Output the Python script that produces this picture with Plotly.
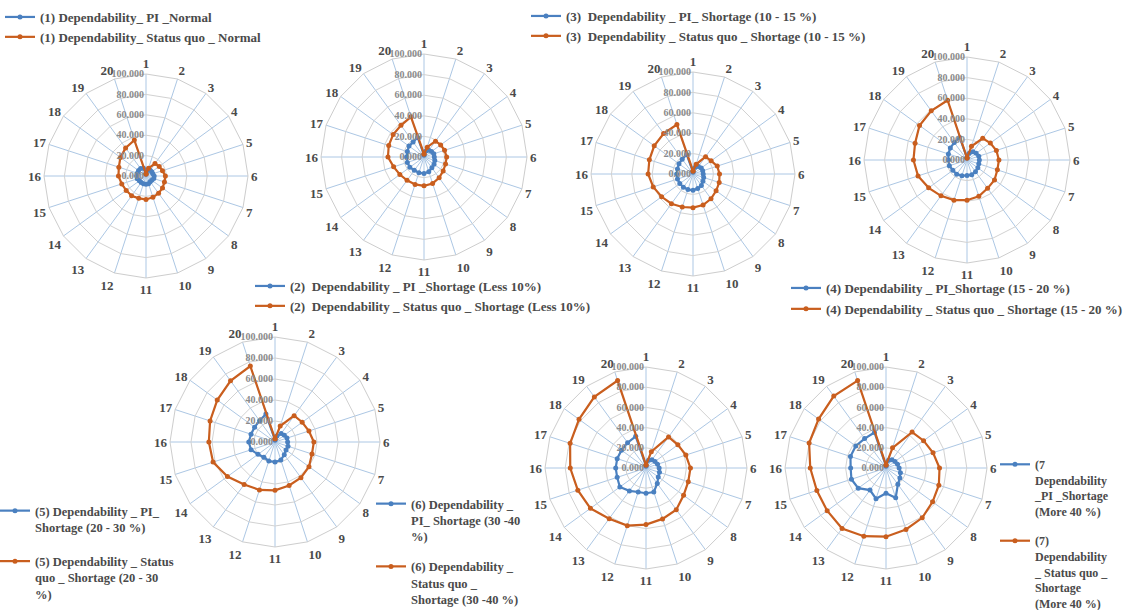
import plotly.graph_objects as go

W, H = 1131, 610

categories = ["1", "2", "3", "4", "5", "6", "7", "8", "9", "10",
              "11", "12", "13", "14", "15", "16", "17", "18", "19", "20"]
radial_ticks = [0, 20, 40, 60, 80, 100]
radial_labels = ["0.000", "20.000", "40.000", "60.000", "80.000", "100.000"]

# Dependability values per scenario (PI vs status quo)
pi_normal = [2, 6, 7, 7, 7, 8, 8, 7, 7, 8, 8, 8, 8, 8, 9, 9, 9, 9, 9, 8]
sq_normal = [2, 8, 15, 16, 17, 19, 19, 20, 21, 22, 23, 23, 24, 24, 25, 27, 28, 31, 34, 37]

pi_less10 = [2, 6, 8, 9, 10, 10, 11, 12, 13, 15, 16, 16, 16, 17, 17, 17, 17, 18, 18, 20]
sq_less10 = [3, 10, 19, 20, 21, 22, 22, 23, 25, 27, 28, 28, 28, 29, 31, 35, 36, 37, 38, 41]

pi_10_15 = [2, 7, 9, 10, 10, 10, 11, 12, 14, 15, 16, 16, 16, 16, 16, 16, 16, 17, 18, 20]
sq_10_15 = [3, 10, 21, 22, 25, 26, 27, 28, 30, 32, 33, 34, 36, 38, 41, 44, 45, 47, 49, 51]

pi_15_20 = [2, 7, 10, 11, 12, 12, 12, 13, 14, 15, 15, 16, 17, 17, 18, 18, 19, 20, 21, 23]
sq_15_20 = [2, 14, 26, 28, 30, 31, 31, 33, 34, 37, 39, 41, 43, 46, 50, 52, 53, 57, 59, 61]

pi_20_30 = [2, 6, 10, 11, 12, 12, 13, 13, 15, 18, 19, 19, 18, 20, 24, 25, 24, 24, 25, 28]
sq_20_30 = [3, 16, 31, 32, 34, 37, 37, 40, 42, 43.5, 46, 48, 50, 56, 62, 63, 65, 68, 72, 76]

pi_30_40 = [2, 8, 10, 11, 12, 13, 14, 15, 19, 25, 25, 25, 28, 32, 30, 30, 30, 30, 31, 33]
sq_30_40 = [3, 17, 38, 39, 41.5, 44, 44, 46, 51, 53, 56, 60, 62, 68, 71, 75, 79, 82, 87, 91]

pi_more40 = [2, 8, 10, 11, 12, 13, 15, 17, 20, 31, 25, 32, 27, 34, 36, 35, 37, 37, 36, 37]
sq_more40 = [3, 21, 44, 46, 49, 53, 55, 57, 61, 64, 68, 71, 74, 72, 72, 75, 80, 82.5, 88, 91]

names_pi = [
    "(1) Dependability_ PI _Normal",
    "(2)  Dependability _ PI _Shortage (Less 10%)",
    "(3)  Dependability _ PI_ Shortage (10 - 15 %)",
    "(4) Dependability _ PI_Shortage (15 - 20 %)",
    "(5) Dependability _ PI_<br>Shortage (20 - 30 %)",
    "(6) Dependability _<br>PI_ Shortage (30 -40<br>%)",
    "(7<br>Dependability<br>_PI _Shortage<br>(More 40 %)",
]
names_sq = [
    "(1) Dependability_ Status quo _ Normal",
    "(2)  Dependability _ Status quo _ Shortage (Less 10%)",
    "(3)  Dependability _ Status quo _ Shortage (10 - 15 %)",
    "(4) Dependability _ Status quo _ Shortage (15 - 20 %)",
    "(5) Dependability _ Status<br>quo _ Shortage (20 - 30<br>%)",
    "(6) Dependability _<br>Status quo _<br>Shortage (30 -40 %)",
    "(7)<br>Dependability<br>_ Status quo _<br>Shortage<br>(More 40 %)",
]
pi_series = [pi_normal, pi_less10, pi_10_15, pi_15_20, pi_20_30, pi_30_40, pi_more40]
sq_series = [sq_normal, sq_less10, sq_10_15, sq_15_20, sq_20_30, sq_30_40, sq_more40]

# layout of each radar panel: centre (px), radius (px)
panels = [
    ((146, 176), 102),
    ((424, 157), 103),
    ((693, 174), 102),
    ((967, 160), 103),
    ((275, 442), 105),
    ((646, 468), 101),
    ((886, 468), 101),
]
# legend placement: left x (px), top y (px), font size, gap between entries
legend_pos = [
    (0, 2, 13, 0),
    (250, 271, 13, 0),
    (526, 1, 13, 0),
    (786, 273, 13, 1),
    (-5, 496, 12.5, 15),
    (371, 489, 12.5, 11),
    (995, 450, 12, 11),
]

BLUE = "#4a80c0"
ORANGE = "#c95e1e"
FONT = "Liberation Serif, Times New Roman, serif"

fig = go.Figure()
layout = {}
for i in range(7):
    pid = "polar" if i == 0 else f"polar{i + 1}"
    lid = "legend" if i == 0 else f"legend{i + 1}"
    theta = categories + [categories[0]]
    for vals, name, col in ((pi_series[i], names_pi[i], BLUE), (sq_series[i], names_sq[i], ORANGE)):
        fig.add_trace(go.Scatterpolar(
            r=vals + [vals[0]], theta=theta, name=name, subplot=pid, legend=lid,
            legendgroup=f"{lid}-{name}",
            mode="lines+markers",
            line=dict(color=col, width=2.2),
            marker=dict(color=col, size=5),
        ))
    (cx, cy), R = panels[i]
    layout[pid] = dict(
        domain=dict(x=[(cx - R) / W, (cx + R) / W], y=[1 - (cy + R) / H, 1 - (cy - R) / H]),
        bgcolor="white",
        gridshape="linear",
        angularaxis=dict(
            type="category", categoryarray=categories, rotation=90, direction="clockwise",
            gridcolor="#acc7e4", gridwidth=1, showline=True, linecolor="#cdcdcd", linewidth=1,
            ticks="", tickfont=dict(family=FONT, size=13, color="#4a4a4a", weight="bold"),
        ),
        radialaxis=dict(
            range=[0, 100], tickvals=radial_ticks, ticktext=radial_labels, angle=90,
            side="counterclockwise", tickangle=90, showline=False, ticks="",
            gridcolor="#d2d2d2", gridwidth=1,
            tickfont=dict(family=FONT, size=10, color="#8a8a8a", weight="bold"),
        ),
    )
    lx, ly, fs, gap = legend_pos[i]
    layout[lid] = dict(
        x=lx / W, y=1 - ly / H, xanchor="left", yanchor="top",
        bgcolor="rgba(0,0,0,0)", valign="top", traceorder="grouped",
        tracegroupgap=gap, itemwidth=30,
        font=dict(family=FONT, size=fs, color="#4a4a4a", weight="bold"),
    )

fig.update_layout(
    width=W, height=H,
    margin=dict(l=0, r=0, t=0, b=0, autoexpand=False),
    paper_bgcolor="white",
    showlegend=True,
    **layout,
)

fig.write_html("out.html")
